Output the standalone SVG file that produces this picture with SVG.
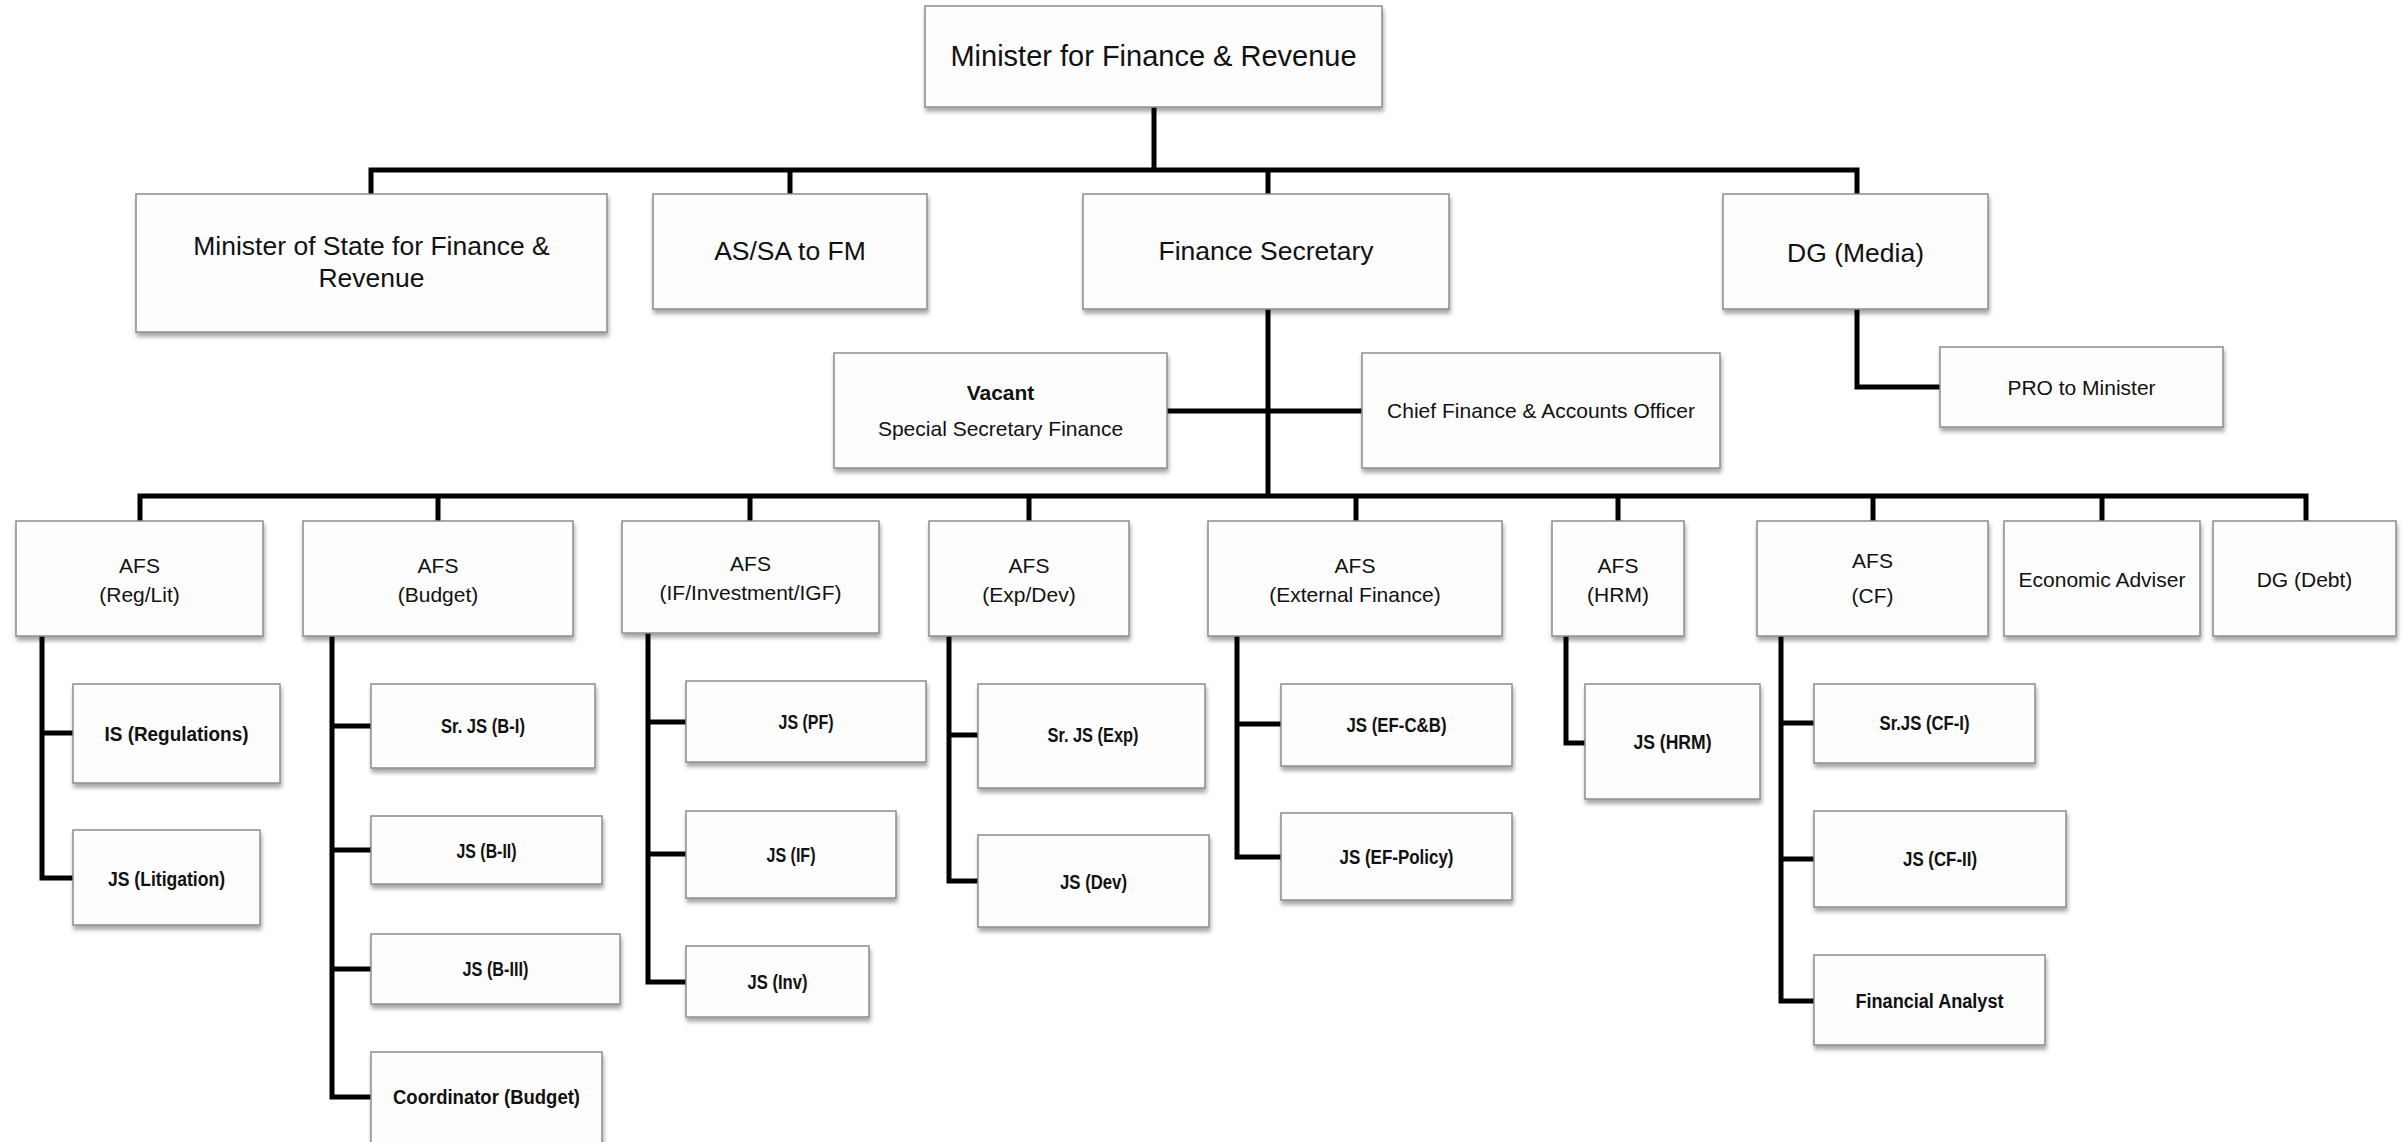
<svg xmlns="http://www.w3.org/2000/svg" width="2406" height="1142" viewBox="0 0 2406 1142">
<defs>
<filter id="sh" x="-5%" y="-10%" width="115%" height="130%">
<feDropShadow dx="1" dy="4" stdDeviation="2" flood-color="#000" flood-opacity="0.35"/>
</filter>
<style>
.box{fill:#fdfdfd;stroke:#8c8c8c;stroke-width:1.5;filter:url(#sh)}
.t{font-family:'Liberation Sans',Arial,sans-serif;fill:#111;text-anchor:middle}
.t0{font-size:29px}
.t1{font-size:26.5px}
.t2{font-size:21px}
.t3{font-size:20px;font-weight:bold}
.b{font-weight:bold}
.conn{fill:none;stroke:#000;stroke-width:5;stroke-linejoin:miter;stroke-linecap:butt}
</style>
</defs>
<rect width="2406" height="1142" fill="#fff"/>

<g id="connectors">
<path class="conn" d="M1154,107 V170"/>
<path class="conn" d="M371,194 V170 H1857 V194"/>
<path class="conn" d="M790,170 V194 M1268,170 V194"/>
<path class="conn" d="M1268,309 V496"/>
<path class="conn" d="M1166,411 H1362"/>
<path class="conn" d="M1857,309 V387 H1940"/>
<path class="conn" d="M140,521 V496 H2306 V521"/>
<path class="conn" d="M438,496 V521 M750,496 V521 M1029,496 V521 M1356,496 V521 M1618,496 V521 M1873,496 V521 M2102,496 V521"/>
<path class="conn" d="M42,636 V878 H73 M42,733 H73"/>
<path class="conn" d="M332,636 V1097 H371 M332,726 H371 M332,850 H371 M332,969 H371"/>
<path class="conn" d="M648,633 V982 H686 M648,722 H686 M648,854 H686"/>
<path class="conn" d="M949,636 V881 H978 M949,735 H978"/>
<path class="conn" d="M1237,636 V857 H1281 M1237,724 H1281"/>
<path class="conn" d="M1566,636 V743 H1585"/>
<path class="conn" d="M1781,636 V1001 H1814 M1781,723 H1814 M1781,859 H1814"/>
</g>

<g id="n-minister"><rect class="box" x="925" y="6" width="457" height="101"/><text class="t t0" x="1153.5" y="66">Minister for Finance &amp; Revenue</text></g>

<g id="n-mos"><rect class="box" x="136" y="194" width="471" height="138"/><text class="t t1" x="371.5" y="255">Minister of State for Finance &amp;</text><text class="t t1" x="371.5" y="287">Revenue</text></g>
<g id="n-assa"><rect class="box" x="653" y="194" width="274" height="115"/><text class="t t1" x="790" y="260">AS/SA to FM</text></g>
<g id="n-fs"><rect class="box" x="1083" y="194" width="366" height="115"/><text class="t t1" x="1266" y="260">Finance Secretary</text></g>
<g id="n-dgmedia"><rect class="box" x="1723" y="194" width="265" height="115"/><text class="t t1" x="1855.5" y="262">DG (Media)</text></g>

<g id="n-vacant"><rect class="box" x="834" y="353" width="333" height="115"/><text class="t t2 b" x="1000.5" y="400">Vacant</text><text class="t t2" x="1000.5" y="436">Special Secretary Finance</text></g>
<g id="n-cfao"><rect class="box" x="1362" y="353" width="358" height="115"/><text class="t t2" x="1541" y="418">Chief Finance &amp; Accounts Officer</text></g>
<g id="n-pro"><rect class="box" x="1940" y="347" width="283" height="80"/><text class="t t2" x="2081.5" y="395">PRO to Minister</text></g>

<g id="n-afs-reglit"><rect class="box" x="16" y="521" width="247" height="115"/><text class="t t2" x="139.5" y="573">AFS</text><text class="t t2" x="139.5" y="602">(Reg/Lit)</text></g>
<g id="n-afs-budget"><rect class="box" x="303" y="521" width="270" height="115"/><text class="t t2" x="438" y="573">AFS</text><text class="t t2" x="438" y="602">(Budget)</text></g>
<g id="n-afs-if"><rect class="box" x="622" y="521" width="257" height="112"/><text class="t t2" x="750.5" y="571">AFS</text><text class="t t2" x="750.5" y="600">(IF/Investment/IGF)</text></g>
<g id="n-afs-expdev"><rect class="box" x="929" y="521" width="200" height="115"/><text class="t t2" x="1029" y="573">AFS</text><text class="t t2" x="1029" y="602">(Exp/Dev)</text></g>
<g id="n-afs-ef"><rect class="box" x="1208" y="521" width="294" height="115"/><text class="t t2" x="1355" y="573">AFS</text><text class="t t2" x="1355" y="602">(External Finance)</text></g>
<g id="n-afs-hrm"><rect class="box" x="1552" y="521" width="132" height="115"/><text class="t t2" x="1618" y="573">AFS</text><text class="t t2" x="1618" y="602">(HRM)</text></g>
<g id="n-afs-cf"><rect class="box" x="1757" y="521" width="231" height="115"/><text class="t t2" x="1872.5" y="568">AFS</text><text class="t t2" x="1872.5" y="603">(CF)</text></g>
<g id="n-econ"><rect class="box" x="2004" y="521" width="196" height="115"/><text class="t t2" x="2102" y="587">Economic Adviser</text></g>
<g id="n-dgdebt"><rect class="box" x="2213" y="521" width="183" height="115"/><text class="t t2" x="2304.5" y="587">DG (Debt)</text></g>

<g id="n-is-reg"><rect class="box" x="73" y="684" width="207" height="99"/><text class="t t3" x="176.5" y="741" textLength="144" lengthAdjust="spacingAndGlyphs">IS (Regulations)</text></g>
<g id="n-js-lit"><rect class="box" x="73" y="830" width="187" height="95"/><text class="t t3" x="166.5" y="886" textLength="117" lengthAdjust="spacingAndGlyphs">JS (Litigation)</text></g>

<g id="n-srjs-b1"><rect class="box" x="371" y="684" width="224" height="84"/><text class="t t3" x="483" y="733" textLength="84" lengthAdjust="spacingAndGlyphs">Sr. JS (B-I)</text></g>
<g id="n-js-b2"><rect class="box" x="371" y="816" width="231" height="68"/><text class="t t3" x="486.5" y="858" textLength="60" lengthAdjust="spacingAndGlyphs">JS (B-II)</text></g>
<g id="n-js-b3"><rect class="box" x="371" y="934" width="249" height="70"/><text class="t t3" x="495.5" y="976" textLength="66" lengthAdjust="spacingAndGlyphs">JS (B-III)</text></g>
<g id="n-coord"><rect class="box" x="371" y="1052" width="231" height="100"/><text class="t t3" x="486.5" y="1104" textLength="187" lengthAdjust="spacingAndGlyphs">Coordinator (Budget)</text></g>

<g id="n-js-pf"><rect class="box" x="686" y="681" width="240" height="81"/><text class="t t3" x="806" y="729" textLength="55" lengthAdjust="spacingAndGlyphs">JS (PF)</text></g>
<g id="n-js-if"><rect class="box" x="686" y="811" width="210" height="87"/><text class="t t3" x="791" y="862" textLength="49" lengthAdjust="spacingAndGlyphs">JS (IF)</text></g>
<g id="n-js-inv"><rect class="box" x="686" y="946" width="183" height="71"/><text class="t t3" x="777.5" y="989" textLength="60" lengthAdjust="spacingAndGlyphs">JS (Inv)</text></g>

<g id="n-srjs-exp"><rect class="box" x="978" y="684" width="227" height="104"/><text class="t t3" x="1093" y="742" textLength="91" lengthAdjust="spacingAndGlyphs">Sr. JS (Exp)</text></g>
<g id="n-js-dev"><rect class="box" x="978" y="835" width="231" height="92"/><text class="t t3" x="1093.5" y="889" textLength="67" lengthAdjust="spacingAndGlyphs">JS (Dev)</text></g>

<g id="n-js-efcb"><rect class="box" x="1281" y="684" width="231" height="82"/><text class="t t3" x="1396.5" y="732" textLength="100" lengthAdjust="spacingAndGlyphs">JS (EF-C&amp;B)</text></g>
<g id="n-js-efpol"><rect class="box" x="1281" y="813" width="231" height="87"/><text class="t t3" x="1396.5" y="864" textLength="114" lengthAdjust="spacingAndGlyphs">JS (EF-Policy)</text></g>

<g id="n-js-hrm"><rect class="box" x="1585" y="684" width="175" height="115"/><text class="t t3" x="1672.5" y="749" textLength="78" lengthAdjust="spacingAndGlyphs">JS (HRM)</text></g>

<g id="n-srjs-cf1"><rect class="box" x="1814" y="684" width="221" height="79"/><text class="t t3" x="1924.5" y="730" textLength="90" lengthAdjust="spacingAndGlyphs">Sr.JS (CF-I)</text></g>
<g id="n-js-cf2"><rect class="box" x="1814" y="811" width="252" height="96"/><text class="t t3" x="1940" y="866" textLength="74" lengthAdjust="spacingAndGlyphs">JS (CF-II)</text></g>
<g id="n-fa"><rect class="box" x="1814" y="955" width="231" height="90"/><text class="t t3" x="1929.5" y="1008" textLength="148" lengthAdjust="spacingAndGlyphs">Financial Analyst</text></g>
</svg>
